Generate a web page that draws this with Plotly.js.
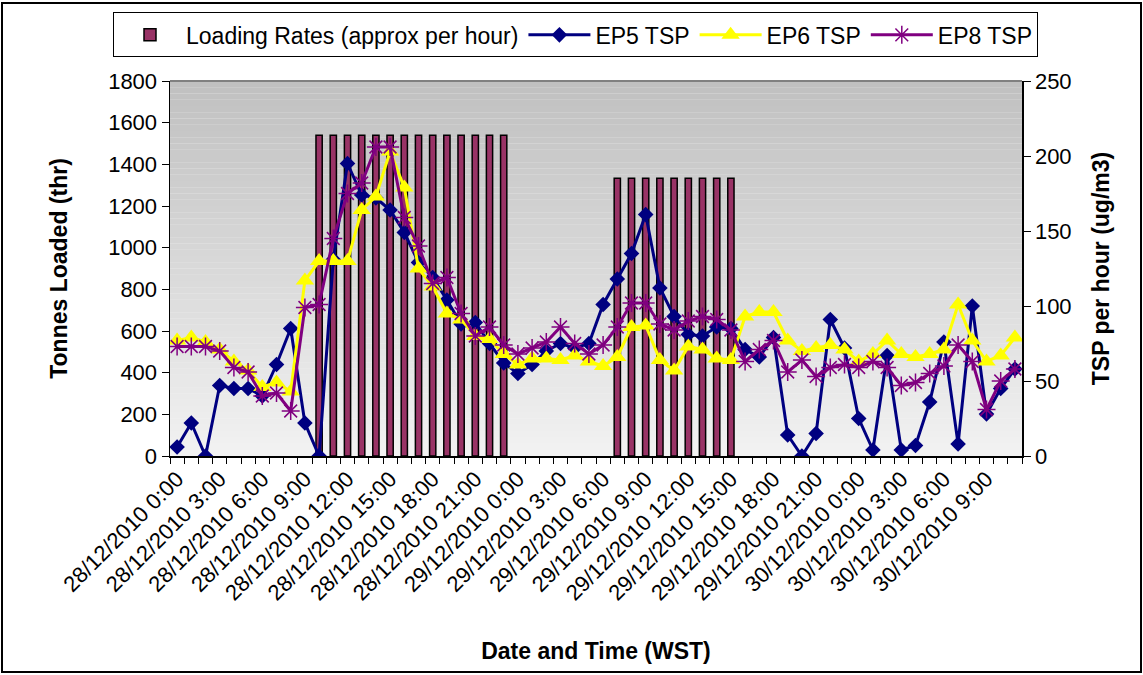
<!DOCTYPE html>
<html>
<head>
<meta charset="utf-8">
<script src="https://cdn.plot.ly/plotly-3.0.1.min.js"></script>
<style>
  html, body { margin: 0; padding: 0; background: #fff; }
  #chart { width: 1143px; height: 675px; }
  #frame { position: absolute; left: 1px; top: 2px; width: 1137px; height: 667px; border: 2px solid #000; pointer-events: none; }
</style>
</head>
<body>
<div id="chart"></div>
<div id="frame"></div>
<script>
const categories = [
  "28/12/2010 0:00","28/12/2010 1:00","28/12/2010 2:00","28/12/2010 3:00","28/12/2010 4:00","28/12/2010 5:00",
  "28/12/2010 6:00","28/12/2010 7:00","28/12/2010 8:00","28/12/2010 9:00","28/12/2010 10:00","28/12/2010 11:00",
  "28/12/2010 12:00","28/12/2010 13:00","28/12/2010 14:00","28/12/2010 15:00","28/12/2010 16:00","28/12/2010 17:00",
  "28/12/2010 18:00","28/12/2010 19:00","28/12/2010 20:00","28/12/2010 21:00","28/12/2010 22:00","28/12/2010 23:00",
  "29/12/2010 0:00","29/12/2010 1:00","29/12/2010 2:00","29/12/2010 3:00","29/12/2010 4:00","29/12/2010 5:00",
  "29/12/2010 6:00","29/12/2010 7:00","29/12/2010 8:00","29/12/2010 9:00","29/12/2010 10:00","29/12/2010 11:00",
  "29/12/2010 12:00","29/12/2010 13:00","29/12/2010 14:00","29/12/2010 15:00","29/12/2010 16:00","29/12/2010 17:00",
  "29/12/2010 18:00","29/12/2010 19:00","29/12/2010 20:00","29/12/2010 21:00","29/12/2010 22:00","29/12/2010 23:00",
  "30/12/2010 0:00","30/12/2010 1:00","30/12/2010 2:00","30/12/2010 3:00","30/12/2010 4:00","30/12/2010 5:00",
  "30/12/2010 6:00","30/12/2010 7:00","30/12/2010 8:00","30/12/2010 9:00","30/12/2010 10:00","30/12/2010 11:00"
];

// Tonnes loaded per hour (left axis)
const loadingRates = [
  null,null,null,null,null,null,null,null,null,null,
  1540,1540,1540,1540,1540,1540,1540,1540,1540,1540,1540,1540,1540,1540,
  null,null,null,null,null,null,null,
  1333,1333,1333,1333,1333,1333,1333,1333,1333,
  null,null,null,null,null,null,null,null,null,null,
  null,null,null,null,null,null,null,null,null,null
];

// TSP (ug/m3, right axis)
const ep5 = [6,22,0,47,45,45,40,61,85,22, 0,131,195,174,172,164,149,129,119,104,
             88,89,75,62,55,61,70,75,72,75, 101,118,135,161,112,93,81,80,86,85,
             71,66,79,14,0,15,91,72,25,4, 67,4,7,36,76,8,100,28,45,58];
const ep6 = [77,79,76,71,63,57,46,49,43,117, 130,130,130,164,173,203,179,125,113,95,
             91,80,78,68,61,65,65,64,67,63, 60,66,86,87,64,57,73,71,65,64,
             93,96,96,77,70,72,74,71,63,68, 77,68,66,68,71,101,77,63,67,79];
const ep8 = [73,73,73,70,59,56,40,42,30,99, 101,145,175,182,206,206,159,140,115,119,
             95,80,86,74,68,72,76,86,75,68, 74,86,102,102,88,84,90,93,91,84,
             63,71,77,56,64,53,59,61,59,63, 59,47,49,55,60,74,63,31,50,58];

const seriesNames = ["Loading Rates (approx per hour)", "EP5 TSP", "EP6 TSP", "EP8 TSP"];

const tickText = categories.map((c, i) => (i % 3 === 0 ? c : ""));

const FONT = "Liberation Sans, Arial, sans-serif";

const traces = [
  {
    type: "bar", name: seriesNames[0], x: categories, y: loadingRates,
    width: 0.44,
    marker: { color: "#993366", line: { color: "#000000", width: 1.5 } },
    yaxis: "y"
  },
  {
    type: "scatter", mode: "lines+markers", name: seriesNames[1], x: categories, y: ep5,
    line: { color: "#000080", width: 3 },
    marker: { symbol: "diamond", size: 12, color: "#000080" },
    yaxis: "y2"
  },
  {
    type: "scatter", mode: "lines+markers", name: seriesNames[2], x: categories, y: ep6,
    line: { color: "#FFFF00", width: 3 },
    marker: { symbol: "triangle-up", size: 16, color: "#FFFF00" },
    yaxis: "y2"
  },
  {
    type: "scatter", mode: "lines+markers", name: seriesNames[3], x: categories, y: ep8,
    line: { color: "#800080", width: 3 },
    marker: { symbol: "asterisk-open", size: 15, color: "#800080", line: { color: "#800080", width: 1.5 } },
    yaxis: "y2"
  }
];

// gradient plot background (grey at top -> light at bottom)
const shapes = [];
const N = 60;
for (let k = 0; k < N; k++) {
  const t = (k + 0.5) / N; // 0 bottom -> 1 top
  const v = Math.round(242 - (242 - 192) * t);
  shapes.push({
    type: "rect", xref: "paper", yref: "paper", x0: 0, x1: 1, y0: k / N, y1: (k + 1) / N,
    fillcolor: `rgb(${v},${v},${v})`, line: { width: 0 }, layer: "below"
  });
}
shapes.push({ type: "line", xref: "paper", yref: "paper", x0: 0, x1: 1, y0: 1, y1: 1,
  line: { color: "#808080", width: 2 }, layer: "above" });

const layout = {
  width: 1143, height: 675,
  margin: { l: 170, r: 121, t: 79, b: 219 },
  paper_bgcolor: "#ffffff",
  plot_bgcolor: "#f2f2f2",
  font: { family: FONT, size: 22, color: "#000" },
  showlegend: true,
  legend: {
    orientation: "h", x: -0.0669, xanchor: "left", y: 1.183, yanchor: "top",
    bordercolor: "#000", borderwidth: 1, bgcolor: "#fff",
    font: { family: FONT, size: 23, color: "#000" },
    itemwidth: 62, traceorder: "normal"
  },
  xaxis: {
    type: "category",
    range: [-0.5, categories.length - 0.5], autorange: false,
    tickmode: "array", tickvals: categories, ticktext: tickText,
    tickson: "boundaries",
    tickangle: -45,
    ticks: "outside", ticklen: 6, tickwidth: 1, tickcolor: "#000",
    showline: true, linecolor: "#000", linewidth: 1.5,
    showgrid: false, zeroline: false,
    tickfont: { family: FONT, size: 22, color: "#000" },
    title: { text: "Date and Time (WST)", font: { family: FONT, size: 23, color: "#000", weight: "bold" }, standoff: 38 },
    automargin: false
  },
  yaxis: {
    range: [0, 1800], autorange: false, dtick: 200, tick0: 0,
    ticks: "outside", ticklen: 7, tickwidth: 1, tickcolor: "#000",
    showline: true, linecolor: "#000", linewidth: 1.5,
    showgrid: false, zeroline: false,
    tickfont: { family: FONT, size: 22, color: "#000" },
    title: { text: "Tonnes Loaded (thr)", font: { family: FONT, size: 23, color: "#000", weight: "bold" }, standoff: 34 },
    automargin: false
  },
  yaxis2: {
    overlaying: "y", side: "right",
    range: [0, 250], autorange: false, dtick: 50, tick0: 0,
    ticks: "outside", ticklen: 7, tickwidth: 1, tickcolor: "#000",
    showline: true, linecolor: "#000", linewidth: 1.5,
    showgrid: false, zeroline: false,
    tickfont: { family: FONT, size: 22, color: "#000" },
    title: { text: "TSP per hour (ug/m3)", font: { family: FONT, size: 23, color: "#000", weight: "bold" }, standoff: 22 },
    automargin: false
  },
  shapes: shapes
};

Plotly.newPlot("chart", traces, layout, { displayModeBar: false, staticPlot: true });
</script>
</body>
</html>
